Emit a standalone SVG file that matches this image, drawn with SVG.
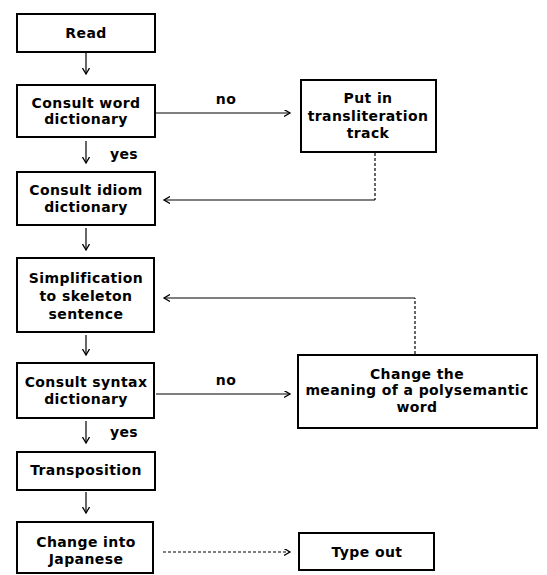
<svg xmlns="http://www.w3.org/2000/svg" width="547" height="575" viewBox="0 0 547 575">
<style>
.box{fill:#fff;stroke:#000;stroke-width:2}
.t{font-family:"DejaVu Sans","Liberation Sans",sans-serif;font-weight:bold;font-size:14px;letter-spacing:0.4px;fill:#000;text-anchor:middle}
.c{fill:none;stroke:#000;stroke-width:1.2}
.d{fill:none;stroke:#000;stroke-width:1.2;stroke-dasharray:3 2}
</style>
<defs>
<marker id="ah" markerWidth="8" markerHeight="8" refX="6" refY="3.5" orient="auto" markerUnits="userSpaceOnUse">
<path d="M0,0 L6,3.5 L0,7" fill="none" stroke="#000" stroke-width="1.3"/>
</marker>
</defs>
<rect width="547" height="575" fill="#fff"/>
<g id="connectors">
<line class="c" x1="86" y1="53" x2="86" y2="74" marker-end="url(#ah)"/>
<line class="c" x1="86" y1="141" x2="86" y2="163" marker-end="url(#ah)"/>
<text class="t" x="124" y="159">yes</text>
<line class="c" x1="156" y1="113" x2="290" y2="113" marker-end="url(#ah)"/>
<text class="t" x="226" y="104">no</text>
<polyline class="d" points="375,153 375,200"/>
<line class="c" x1="375" y1="200" x2="164" y2="200" marker-end="url(#ah)"/>
<line class="c" x1="86" y1="228" x2="86" y2="250" marker-end="url(#ah)"/>
<line class="c" x1="86" y1="335" x2="86" y2="355" marker-end="url(#ah)"/>
<polyline class="d" points="415,354 415,298"/>
<line class="c" x1="415" y1="298" x2="164" y2="298" marker-end="url(#ah)"/>
<line class="c" x1="156" y1="394" x2="290" y2="394" marker-end="url(#ah)"/>
<text class="t" x="226" y="385">no</text>
<line class="c" x1="86" y1="421" x2="86" y2="443" marker-end="url(#ah)"/>
<text class="t" x="124" y="437">yes</text>
<line class="c" x1="86" y1="492" x2="86" y2="513" marker-end="url(#ah)"/>
<line class="d" x1="163" y1="552" x2="290" y2="552" marker-end="url(#ah)"/>
</g>
<g id="read">
<rect class="box" x="17" y="14" width="138" height="38"/>
<text class="t" x="86" y="38">Read</text>
</g>
<g id="consult-word">
<rect class="box" x="17" y="85" width="138" height="52"/>
<text class="t" x="86" y="108">Consult word</text>
<text class="t" x="86" y="124">dictionary</text>
</g>
<g id="transliteration">
<rect class="box" x="301" y="80" width="135" height="72"/>
<text class="t" x="368" y="103">Put in</text>
<text class="t" x="368" y="121">transliteration</text>
<text class="t" x="368" y="138">track</text>
</g>
<g id="consult-idiom">
<rect class="box" x="17" y="172" width="138" height="53"/>
<text class="t" x="86" y="195">Consult idiom</text>
<text class="t" x="86" y="212">dictionary</text>
</g>
<g id="simplification">
<rect class="box" x="17" y="258" width="137" height="74"/>
<text class="t" x="86" y="283">Simplification</text>
<text class="t" x="86" y="301">to skeleton</text>
<text class="t" x="86" y="319">sentence</text>
</g>
<g id="consult-syntax">
<rect class="box" x="17" y="363" width="137" height="55"/>
<text class="t" x="86" y="387">Consult syntax</text>
<text class="t" x="86" y="404">dictionary</text>
</g>
<g id="change-meaning">
<rect class="box" x="298" y="355" width="239" height="73"/>
<text class="t" x="417" y="379">Change the</text>
<text class="t" x="417" y="395">meaning of a polysemantic</text>
<text class="t" x="417" y="412">word</text>
</g>
<g id="transposition">
<rect class="box" x="17" y="452" width="138" height="38"/>
<text class="t" x="86" y="475">Transposition</text>
</g>
<g id="change-japanese">
<rect class="box" x="17" y="522" width="136" height="51"/>
<text class="t" x="86" y="547">Change into</text>
<text class="t" x="86" y="564">Japanese</text>
</g>
<g id="type-out">
<rect class="box" x="299" y="533" width="135" height="37"/>
<text class="t" x="367" y="557">Type out</text>
</g>
</svg>
